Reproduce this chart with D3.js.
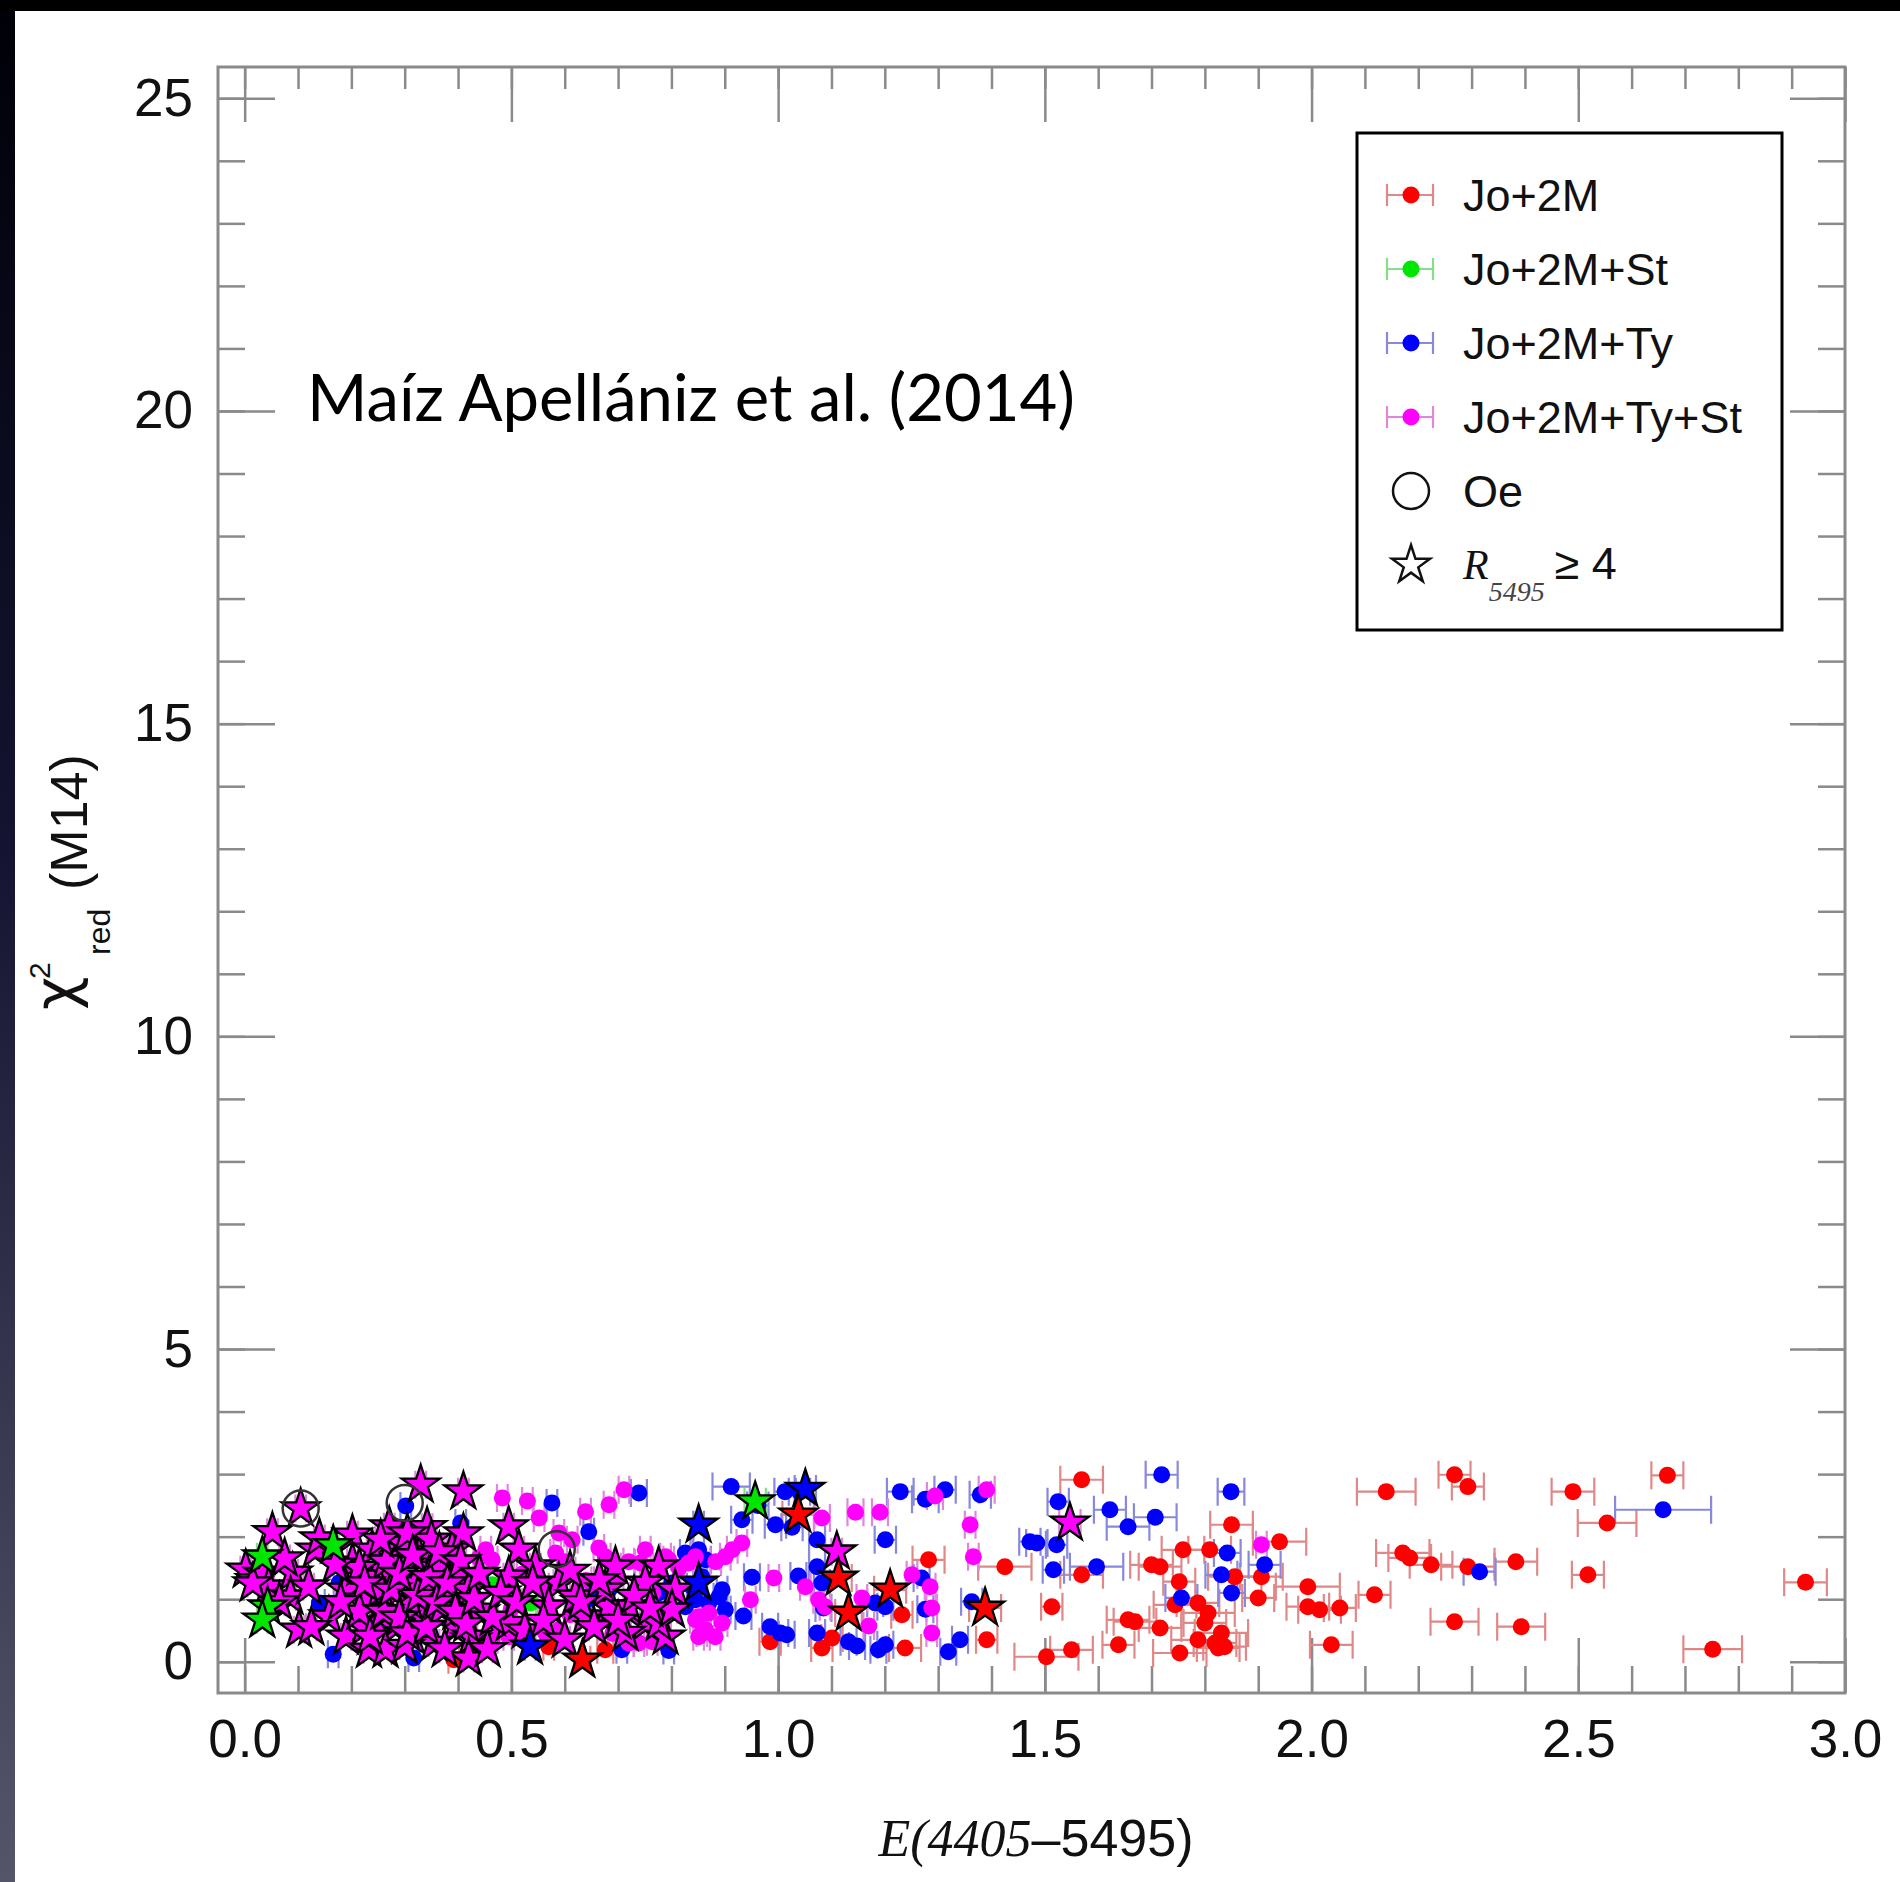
<!DOCTYPE html>
<html>
<head>
<meta charset="utf-8">
<script src="https://cdn.jsdelivr.net/npm/d3@7"></script>
<style>
  body { margin: 0; background: #fff; }
  svg { display: block; }
</style>
</head>
<body>
<svg width="1900" height="1882"></svg>
<script>
// data: [E(4405-5495), chi2_red, sigma_E, R5495>=4 (1 = star)]
const jo2m = [
  [0.392,0.03,0.01,0],[0.570,0.24,0.01,0],[0.633,0.03,0.015,1],[0.676,0.19,0.015,0],
  [0.985,0.32,0.02,0],[1.082,0.22,0.02,0],[1.101,0.38,0.02,0],[1.038,2.35,0.03,1],
  [1.113,1.34,0.025,1],[1.132,0.78,0.025,1],[1.210,1.15,0.03,1],[1.388,0.86,0.03,1],
  [1.232,0.75,0.02,0],[1.238,0.22,0.03,0],[1.282,1.63,0.03,0],[1.391,0.35,0.02,0],
  [1.425,1.52,0.05,0],[1.503,0.08,0.06,0],[1.513,0.88,0.02,0],[1.550,0.19,0.04,0],
  [1.569,2.91,0.04,0],[1.569,1.39,0.04,0],[1.638,0.27,0.03,0],[1.656,0.67,0.04,0],
  [1.669,0.64,0.04,0],[1.700,1.55,0.04,0],[1.716,1.52,0.04,0],[1.744,0.91,0.04,0],
  [1.753,0.14,0.05,0],[1.716,0.54,0.04,0],[1.759,1.79,0.04,0],[1.787,0.94,0.04,0],
  [1.806,0.78,0.05,0],[1.800,0.62,0.04,0],[1.787,0.35,0.05,0],[1.809,1.79,0.04,0],
  [1.831,0.46,0.05,0],[1.837,0.24,0.04,0],[1.825,0.22,0.04,0],[1.850,2.19,0.04,0],
  [1.856,1.36,0.05,0],[1.906,1.36,0.04,0],[1.900,1.02,0.03,0],[1.940,1.92,0.05,0],
  [1.993,1.20,0.06,0],[1.993,0.88,0.04,0],[2.015,0.83,0.04,0],[2.053,0.86,0.03,0],
  [2.037,0.27,0.04,0],[2.118,1.07,0.03,0],[2.140,2.72,0.055,0],[2.171,1.74,0.05,0],
  [2.184,1.66,0.04,0],[2.224,1.55,0.04,0],[2.268,2.99,0.03,0],[2.293,2.80,0.03,0],
  [2.293,1.52,0.05,0],[2.268,0.64,0.045,0],[2.383,1.60,0.04,0],[2.393,0.56,0.045,0],
  [2.490,2.72,0.04,0],[2.518,1.39,0.03,0],[2.554,2.22,0.055,0],[2.667,2.98,0.03,0],
  [2.752,0.20,0.055,0],[2.926,1.27,0.04,0],[1.752,1.28,0.03,0],[1.819,0.30,0.04,0]
];

const jo2mSt = [
  [0.033,1.68,0.01,1],[0.043,0.88,0.01,1],[0.033,0.67,0.01,1],[0.166,1.86,0.01,1],
  [0.464,1.23,0.01,0],[0.536,0.94,0.01,0],[0.957,2.56,0.02,1]
];

const jo2mTy = [
  [0.166,0.12,0.01,0],[0.177,1.26,0.01,0],[0.140,0.94,0.01,0],[0.302,2.49,0.01,0],
  [0.317,0.06,0.01,0],[0.405,2.22,0.01,0],[0.442,1.36,0.01,0],[0.535,0.24,0.01,1],
  [0.576,2.54,0.01,0],[0.645,2.08,0.01,0],[0.642,0.99,0.01,0],[0.651,1.10,0.01,0],
  [0.683,1.15,0.01,0],[0.707,0.19,0.01,0],[0.739,2.70,0.015,0],[0.776,1.10,0.01,0],
  [0.795,0.18,0.01,0],[0.801,1.26,0.01,0],[0.826,1.74,0.01,0],[0.851,1.79,0.01,0],
  [0.864,1.63,0.01,0],[0.839,1.20,0.01,0],[0.857,1.36,0.01,0],[0.845,0.99,0.01,0],
  [0.826,0.88,0.01,0],[0.851,2.19,0.01,1],[0.851,1.26,0.01,1],[0.895,1.15,0.01,0],
  [0.889,1.04,0.01,0],[0.870,0.94,0.01,0],[0.901,0.83,0.01,0],[0.912,2.80,0.035,0],
  [0.932,2.27,0.02,0],[0.962,2.50,0.02,0],[0.995,2.19,0.02,0],[1.026,2.15,0.02,0],
  [1.013,2.72,0.02,0],[1.040,2.72,0.02,0],[1.051,2.76,0.02,1],[0.951,1.35,0.015,0],
  [0.935,0.73,0.015,0],[0.985,0.56,0.015,0],[1.004,0.46,0.015,0],[1.016,0.43,0.015,0],
  [1.038,1.37,0.015,0],[1.073,1.95,0.015,0],[1.073,1.52,0.015,0],[1.082,1.26,0.015,0],
  [1.085,0.86,0.015,0],[1.073,0.46,0.015,0],[1.132,0.32,0.015,0],[1.148,0.25,0.015,0],
  [1.182,0.94,0.015,0],[1.201,0.88,0.015,0],[1.188,0.19,0.015,0],[1.201,0.27,0.015,0],
  [1.201,1.95,0.02,0],[1.229,2.72,0.025,0],[1.276,2.60,0.025,0],[1.313,2.75,0.02,0],
  [1.379,2.67,0.02,0],[1.269,1.34,0.015,0],[1.276,0.84,0.015,0],[1.319,0.16,0.015,0],
  [1.341,0.35,0.015,0],[1.363,0.96,0.02,0],[1.472,1.92,0.02,0],[1.485,1.90,0.02,0],
  [1.522,1.87,0.02,0],[1.516,1.47,0.02,0],[1.525,2.56,0.02,0],[1.597,1.52,0.05,0],
  [1.622,2.43,0.03,0],[1.656,2.16,0.04,0],[1.707,2.31,0.04,0],[1.719,2.99,0.03,0],
  [1.849,2.72,0.025,0],[1.842,1.74,0.025,0],[1.831,1.39,0.03,0],[1.850,1.10,0.025,0],
  [1.756,1.02,0.03,0],[1.912,1.55,0.03,0],[2.315,1.44,0.03,0],[2.659,2.43,0.09,0]
];

const jo2mTySt = [
  // dots
  [0.483,2.62,0.01,0],[0.530,2.57,0.01,0],[0.552,2.30,0.01,0],[0.639,2.40,0.01,0],
  [0.683,2.51,0.01,0],[0.711,2.75,0.01,0],[0.452,1.79,0.01,0],[0.439,1.66,0.01,0],
  [0.464,1.63,0.01,0],[0.589,2.06,0.01,0],[0.614,1.95,0.01,0],[0.583,1.74,0.01,0],
  [0.664,1.82,0.01,0],[0.676,1.68,0.01,0],[0.751,1.79,0.01,0],[0.742,1.58,0.01,0],
  [0.789,1.68,0.01,0],[0.795,1.63,0.01,0],[0.814,1.50,0.01,0],[0.832,1.58,0.01,0],
  [0.845,1.68,0.01,0],[0.883,1.60,0.01,0],[0.901,1.68,0.01,0],[0.914,1.79,0.01,0],
  [0.932,1.90,0.01,0],[0.851,0.72,0.01,0],[0.864,0.51,0.01,0],[0.851,0.40,0.01,0],
  [0.870,0.78,0.01,0],[0.857,0.46,0.01,0],[0.882,0.40,0.01,0],[0.895,0.62,0.01,0],
  [0.845,0.67,0.01,0],[0.477,0.51,0.01,0],[0.495,0.40,0.01,0],[0.464,0.35,0.01,0],
  [0.589,0.51,0.01,0],[0.564,0.46,0.01,0],[0.739,0.30,0.01,0],[0.764,0.32,0.01,0],
  [0.992,1.34,0.01,0],[0.948,0.99,0.01,0],[1.082,2.30,0.015,0],[1.145,2.39,0.015,0],
  [1.191,2.39,0.015,0],[1.294,2.65,0.015,0],[1.391,2.75,0.015,0],[1.051,1.20,0.01,0],
  [1.076,0.99,0.01,0],[1.088,0.88,0.01,0],[1.157,1.02,0.01,0],[1.170,0.57,0.01,0],
  [1.251,1.39,0.01,0],[1.285,1.20,0.01,0],[1.288,0.86,0.01,0],[1.288,0.46,0.01,0],
  [1.360,2.19,0.01,0],[1.366,1.68,0.01,0],[1.906,1.87,0.01,0],[0.720,0.30,0.01,0],
  [0.520,1.40,0.01,0],[0.560,1.20,0.01,0],[0.600,1.60,0.01,0],[0.640,1.30,0.01,0],
  [0.700,1.35,0.01,0],[0.720,1.60,0.01,0],[0.765,1.10,0.01,0],[0.500,0.85,0.01,0],
  [0.610,0.75,0.01,0],[0.690,0.45,0.01,0],
  // stars
  [0.105,2.45,0.01,1],[0.052,2.07,0.01,1],[0.002,1.47,0.01,1],[0.020,1.30,0.01,1],
  [0.035,1.40,0.01,1],[0.045,1.20,0.01,1],[0.015,1.25,0.01,1],[0.090,1.42,0.01,1],
  [0.086,1.04,0.01,1],[0.102,0.51,0.01,1],[0.133,1.79,0.01,1],[0.140,1.97,0.01,1],
  [0.202,2.03,0.01,1],[0.202,1.58,0.01,1],[0.190,1.15,0.01,1],[0.158,0.72,0.01,1],
  [0.190,0.40,0.01,1],[0.239,1.79,0.01,1],[0.246,1.36,0.01,1],[0.227,0.99,0.01,1],
  [0.246,0.62,0.01,1],[0.233,0.19,0.01,1],[0.271,2.16,0.01,1],[0.283,1.79,0.01,1],
  [0.277,1.36,0.01,1],[0.264,0.99,0.01,1],[0.283,0.56,0.01,1],[0.264,0.19,0.01,1],
  [0.330,2.83,0.01,1],[0.342,2.15,0.01,1],[0.327,1.68,0.01,1],[0.352,1.15,0.01,1],
  [0.333,0.72,0.01,1],[0.314,0.40,0.01,1],[0.410,2.72,0.01,1],[0.389,1.79,0.01,1],
  [0.402,1.36,0.01,1],[0.383,0.99,0.01,1],[0.395,0.56,0.01,1],[0.215,1.50,0.01,1],
  [0.255,1.15,0.01,1],[0.300,1.55,0.01,1],[0.310,0.95,0.01,1],[0.295,1.90,0.01,1],
  [0.360,1.50,0.01,1],[0.370,0.85,0.01,1],[0.355,0.30,0.01,1],[0.420,1.15,0.01,1],
  [0.425,0.35,0.01,1],[0.440,0.80,0.01,1],[0.300,0.25,0.01,1],[0.225,0.55,0.01,1],
  [0.350,1.95,0.01,1],[0.410,2.05,0.01,1],[0.320,1.25,0.01,1],[0.265,1.60,0.01,1],
  [0.215,0.80,0.01,1],[0.495,2.16,0.01,1],[0.514,1.79,0.01,1],[0.495,1.36,0.01,1],
  [0.545,1.52,0.01,1],[0.589,1.26,0.01,1],[0.570,0.88,0.01,1],[0.620,1.04,0.01,1],
  [0.639,0.72,0.01,1],[0.439,0.83,0.01,1],[0.426,0.40,0.01,1],[0.495,0.62,0.01,1],
  [0.420,0.05,0.01,1],[0.683,0.88,0.01,1],[0.776,1.52,0.01,1],[0.807,1.15,0.01,1],
  [0.751,0.62,0.01,1],[0.789,0.40,0.01,1],[0.695,1.52,0.01,1],[0.676,1.15,0.01,1],
  [0.720,0.88,0.01,1],[0.751,1.26,0.01,1],[0.776,0.62,0.01,1],[0.801,0.83,0.01,1],
  [0.714,0.46,0.01,1],[1.110,1.76,0.01,1],[1.547,2.22,0.02,1],
  [0.225,1.25,0.01,1],[0.235,0.40,0.01,1],[0.255,1.95,0.01,1],[0.260,0.80,0.01,1],
  [0.275,1.15,0.01,1],[0.290,0.70,0.01,1],[0.290,1.40,0.01,1],[0.305,0.45,0.01,1],
  [0.305,2.05,0.01,1],[0.315,1.70,0.01,1],[0.325,1.05,0.01,1],[0.340,0.55,0.01,1],
  [0.345,1.35,0.01,1],[0.360,0.95,0.01,1],[0.365,1.75,0.01,1],[0.375,0.20,0.01,1],
  [0.380,1.25,0.01,1],[0.395,0.80,0.01,1],[0.405,1.60,0.01,1],[0.415,0.60,0.01,1],
  [0.430,1.00,0.01,1],[0.440,1.40,0.01,1],[0.455,0.20,0.01,1],[0.465,0.70,0.01,1],
  [0.480,1.10,0.01,1],[0.510,0.95,0.01,1],[0.525,0.50,0.01,1],[0.540,1.25,0.01,1],
  [0.560,0.65,0.01,1],[0.600,0.35,0.01,1],[0.610,1.45,0.01,1],[0.630,0.95,0.01,1],
  [0.655,0.55,0.01,1],[0.665,1.30,0.01,1],[0.700,0.65,0.01,1],[0.730,1.05,0.01,1],
  [0.760,0.85,0.01,1],[0.180,0.95,0.01,1],[0.170,1.55,0.01,1],[0.120,1.20,0.01,1],
  [0.125,0.55,0.01,1],[0.065,0.95,0.01,1],[0.075,1.65,0.01,1]
];

// Oe stars (open circles)
const oe = [[0.105,2.45],[0.300,2.54],[0.585,1.80]];

const seriesNames = ["Jo+2M", "Jo+2M+St", "Jo+2M+Ty", "Jo+2M+Ty+St"];
const seriesColors = ["#ff0000", "#00e600", "#0000ff", "#ff00ff"];
const errColors = ["#e08888", "#88dd88", "#8888dd", "#dd88dd"];
const xTickValues = [0, 0.5, 1.0, 1.5, 2.0, 2.5, 3.0];
const yTickValues = [0, 5, 10, 15, 20, 25];

const svg = d3.select("svg"),
    width = +svg.attr("width"),
    height = +svg.attr("height");

// slide frame (black top strip, dark left strip)
const grad = svg.append("defs").append("linearGradient")
    .attr("id", "band").attr("x1", 0).attr("x2", 0).attr("y1", 0).attr("y2", 1);
grad.append("stop").attr("offset", "0%").attr("stop-color", "#000008");
grad.append("stop").attr("offset", "45%").attr("stop-color", "#141432");
grad.append("stop").attr("offset", "100%").attr("stop-color", "#55556a");
svg.append("rect").attr("x", 0).attr("y", 0).attr("width", 15).attr("height", height).attr("fill", "url(#band)");
svg.append("rect").attr("x", 0).attr("y", 0).attr("width", width).attr("height", 11).attr("fill", "#000");

// scales
const pLeft = 218, pRight = 1845, pTop = 67, pBottom = 1693;
const x = d3.scaleLinear().domain([-0.05, 3.0]).range([pLeft, pRight]);
const y = d3.scaleLinear().domain([-0.5, 25.5]).range([pBottom, pTop]);

// axes
const axisColor = "#8a8a8a";
function styleAxis(g) {
  g.select(".domain").remove();
  g.selectAll(".tick line").attr("stroke", axisColor).attr("stroke-width", 2.5);
  g.selectAll(".tick text").attr("fill", "#111")
    .style("font-family", "'Liberation Sans', Arial, sans-serif").style("font-size", "53px");
}
const xMinor = d3.range(0, 31).map(i => i / 10);
const yMinor = d3.range(0, 26);

svg.append("g").attr("transform", `translate(0,${pBottom})`)
    .call(d3.axisBottom(x).tickValues(xMinor).tickSize(-27).tickFormat(""))
    .call(styleAxis);
svg.append("g").attr("transform", `translate(0,${pBottom})`)
    .call(d3.axisBottom(x).tickValues(xTickValues).tickSize(-55).tickPadding(26).tickFormat(d3.format(".1f")))
    .call(styleAxis);
svg.append("g").attr("transform", `translate(0,${pTop})`)
    .call(d3.axisTop(x).tickValues(xMinor).tickSize(-22).tickFormat(""))
    .call(styleAxis);
svg.append("g").attr("transform", `translate(0,${pTop})`)
    .call(d3.axisTop(x).tickValues(xTickValues).tickSize(-55).tickFormat(""))
    .call(styleAxis);
svg.append("g").attr("transform", `translate(${pLeft},0)`)
    .call(d3.axisLeft(y).tickValues(yMinor).tickSize(-27).tickFormat(""))
    .call(styleAxis);
svg.append("g").attr("transform", `translate(${pLeft},0)`)
    .call(d3.axisLeft(y).tickValues(yTickValues).tickSize(-57).tickPadding(25).tickFormat(d3.format("d")))
    .call(styleAxis);
svg.append("g").attr("transform", `translate(${pRight},0)`)
    .call(d3.axisRight(y).tickValues(yMinor).tickSize(-27).tickFormat(""))
    .call(styleAxis);
svg.append("g").attr("transform", `translate(${pRight},0)`)
    .call(d3.axisRight(y).tickValues(yTickValues).tickSize(-55).tickFormat(""))
    .call(styleAxis);

svg.append("rect")
    .attr("x", pLeft).attr("y", pTop).attr("width", pRight - pLeft).attr("height", pBottom - pTop)
    .attr("fill", "none").attr("stroke", axisColor).attr("stroke-width", 3);

// axis titles
const xt = svg.append("text").attr("x", 1036).attr("y", 1856).attr("text-anchor", "middle")
    .style("font-size", "52px").attr("fill", "#111");
xt.append("tspan").style("font-family", "'Liberation Serif', 'Times New Roman', serif")
    .style("font-style", "italic").text("E(4405");
xt.append("tspan").style("font-family", "'Liberation Sans', Arial, sans-serif").text("\u20135495)");

function vtext(px, py, size, txt, family) {
  return svg.append("text")
      .attr("transform", `translate(${px},${py}) rotate(-90)`)
      .style("font-family", family || "'Liberation Sans', Arial, sans-serif")
      .style("font-size", size + "px").attr("fill", "#111").text(txt);
}
vtext(76, 1010, 58, "\u03c7", "'DejaVu Sans', sans-serif");
vtext(50, 979, 30, "2");
vtext(110, 955, 32, "red");
vtext(87, 890, 52, "(M14)");

// annotation
const note = svg.append("text").attr("x", 307).attr("y", 421)
    .style("font-family", "Lato, 'Open Sans', sans-serif").style("font-size", "60px")
    .attr("fill", "#000").text("Ma\u00edz Apell\u00e1niz et al. (2014)");
const nl = note.node().getComputedTextLength();
note.style("font-size", (60 * 768 / nl) + "px");

// data
const series = [jo2m, jo2mSt, jo2mTy, jo2mTySt];
const plot = svg.append("g");
const capH = 14;

series.forEach((data, i) => {
  const eb = plot.append("g").attr("stroke", errColors[i]).attr("stroke-width", 2.2);
  eb.selectAll("path").data(data).join("path")
    .attr("fill", "none")
    .attr("d", d => {
      const x0 = x(d[0] - d[2]), x1 = x(d[0] + d[2]), yy = y(d[1]);
      return `M${x0},${yy}H${x1}M${x0},${yy - capH}V${yy + capH}M${x1},${yy - capH}V${yy + capH}`;
    });
});

series.forEach((data, i) => {
  plot.append("g").selectAll("circle").data(data.filter(d => !d[3])).join("circle")
    .attr("cx", d => x(d[0])).attr("cy", d => y(d[1])).attr("r", 8.5)
    .attr("fill", seriesColors[i]);
});

const star = d3.symbol().type(d3.symbolStar).size(449);
[3, 1, 2, 0].forEach(i => {
  plot.append("g").selectAll("path").data(series[i].filter(d => d[3])).join("path")
    .attr("transform", d => `translate(${x(d[0])},${y(d[1])})`)
    .attr("d", star)
    .attr("fill", seriesColors[i]).attr("stroke", "#000").attr("stroke-width", 2.3)
    .attr("stroke-linejoin", "miter");
});

plot.append("g").selectAll("circle").data(oe).join("circle")
  .attr("cx", d => x(d[0])).attr("cy", d => y(d[1])).attr("r", 18)
  .attr("fill", "none").attr("stroke", "#333").attr("stroke-width", 2.5);

// legend
const lg = svg.append("g");
lg.append("rect").attr("x", 1357).attr("y", 133).attr("width", 425).attr("height", 497)
  .attr("fill", "#fff").attr("stroke", "#000").attr("stroke-width", 3);
const rowY = d3.scalePoint().domain(d3.range(6)).range([195, 565]);
const sans = "'Liberation Sans', Arial, sans-serif";

seriesNames.forEach((name, i) => {
  const cy = rowY(i);
  lg.append("path").attr("fill", "none").attr("stroke", errColors[i]).attr("stroke-width", 2.2)
    .attr("d", `M1387,${cy}H1433M1387,${cy - 11}V${cy + 11}M1433,${cy - 11}V${cy + 11}`);
  lg.append("circle").attr("cx", 1411).attr("cy", cy).attr("r", 8.5).attr("fill", seriesColors[i]);
  lg.append("text").attr("x", 1463).attr("y", cy + 16)
    .style("font-family", sans).style("font-size", "45px").attr("fill", "#111").text(name);
});
lg.append("circle").attr("cx", 1411).attr("cy", rowY(4)).attr("r", 18)
  .attr("fill", "none").attr("stroke", "#111").attr("stroke-width", 2.5);
lg.append("text").attr("x", 1463).attr("y", rowY(4) + 16)
  .style("font-family", sans).style("font-size", "45px").attr("fill", "#111").text("Oe");
lg.append("path").attr("transform", `translate(1411,${rowY(5)})`).attr("d", star)
  .attr("fill", "none").attr("stroke", "#111").attr("stroke-width", 2.5);
const rt = lg.append("text").attr("x", 1463).attr("y", rowY(5) + 14).attr("fill", "#111");
rt.append("tspan").style("font-family", "'Liberation Serif', serif").style("font-style", "italic")
  .style("font-size", "42px").text("R");
rt.append("tspan").attr("dy", 22).style("font-family", "'Liberation Serif', serif").style("font-style", "italic")
  .style("font-size", "28px").attr("fill", "#444").text("5495");
rt.append("tspan").attr("dy", -22).attr("dx", 10).style("font-family", sans)
  .style("font-size", "45px").text("\u2265 4");
</script>
</body>
</html>
